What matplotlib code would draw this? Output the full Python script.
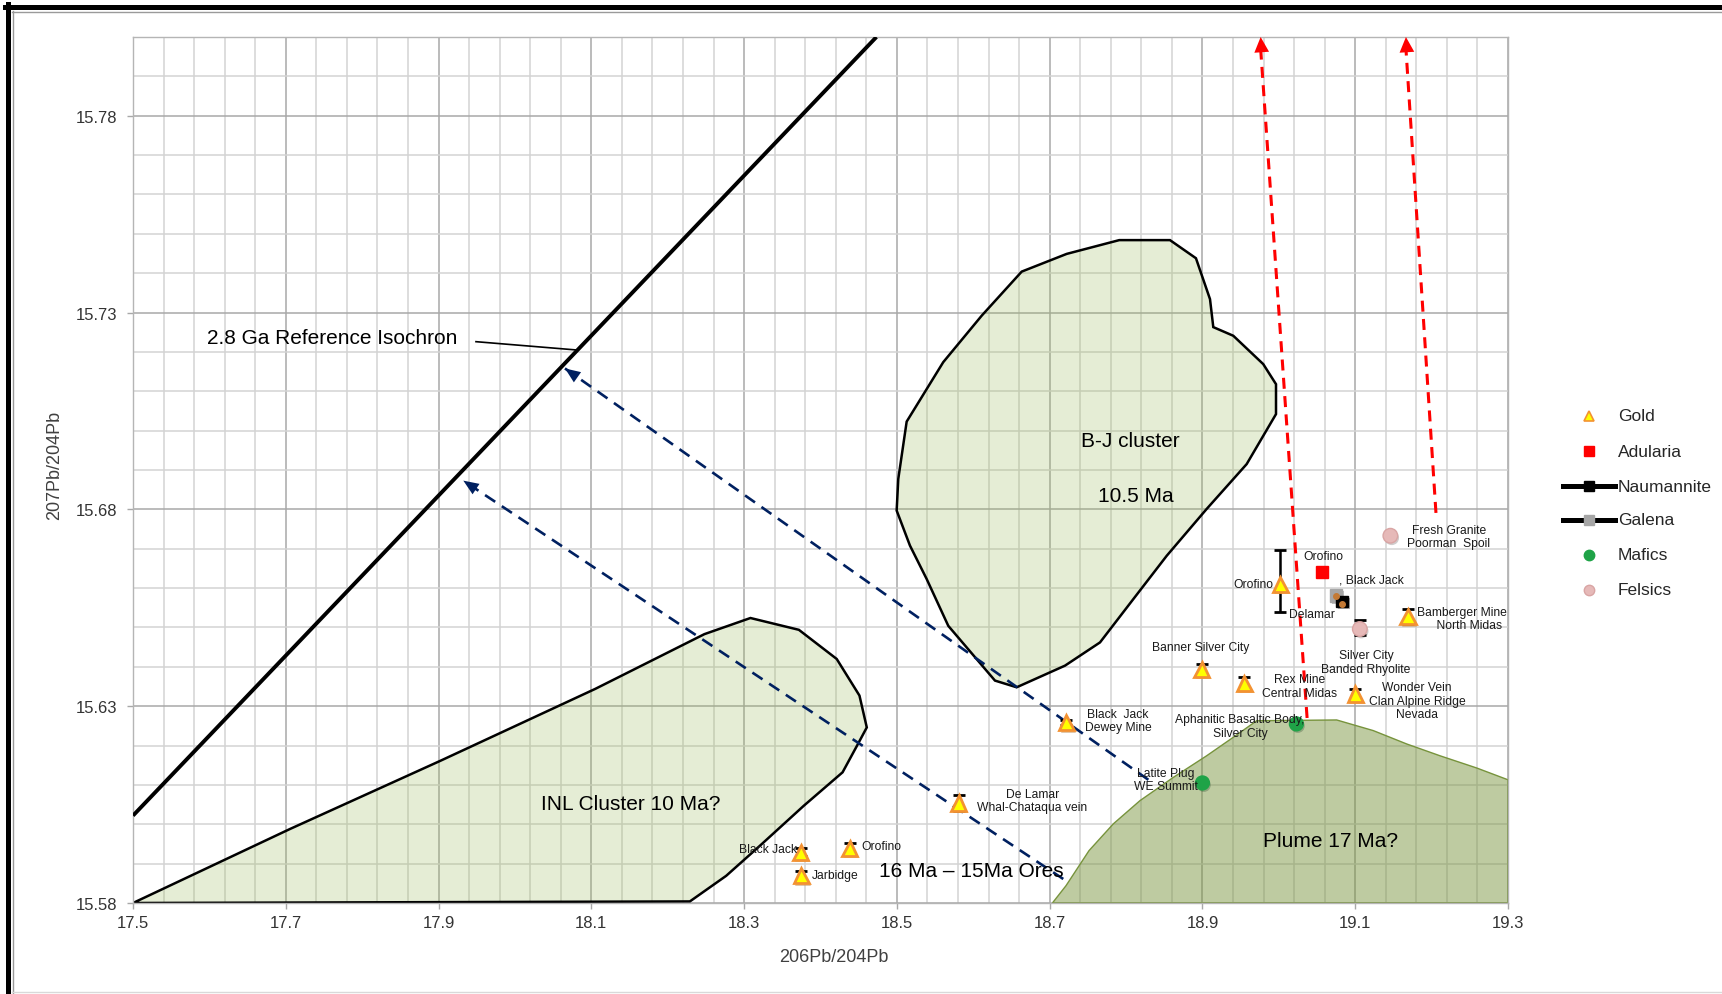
import matplotlib
matplotlib.use("Agg")
import numpy as np
import matplotlib.pyplot as plt
import matplotlib.patheffects as pe
from matplotlib.lines import Line2D
from matplotlib.colors import to_rgba
from matplotlib.ticker import FixedLocator, FormatStrFormatter

plt.rcParams["font.family"] = ["Liberation Sans", "DejaVu Sans"]

# ---------------- data ----------------
x_ticks = [17.5, 17.7, 17.9, 18.1, 18.3, 18.5, 18.7, 18.9, 19.1, 19.3]
y_ticks = [15.58, 15.63, 15.68, 15.73, 15.78]

# Gold (ores)
gold_x = [19.002, 18.899, 18.955, 19.100, 19.169, 18.722, 18.581, 18.374, 18.438, 18.375]
gold_y = [15.6610, 15.6394, 15.6358, 15.6331, 15.6527, 15.6258, 15.6054, 15.5929, 15.5939, 15.5869]
gold_err_lo = [0.0070, 0.0013, 0.0017, 0.0013, 0.0019, 0.0007, 0.0020, 0.0010, 0.0013, 0.0013]
gold_err_hi = [0.0088, 0.0013, 0.0017, 0.0013, 0.0019, 0.0007, 0.0020, 0.0010, 0.0013, 0.0013]

# Adularia
adularia_x = [19.057]
adularia_y = [15.6642]

# Naumannite / Galena
naumannite_x = [19.083]
naumannite_y = [15.6566]
galena_x = [19.075]
galena_y = [15.6581]

# Mafics
mafic_x = [19.023, 18.900]
mafic_y = [15.6255, 15.6105]

# Felsics
felsic_x = [19.146, 19.106]
felsic_y = [15.6733, 15.6496]
felsic_err_lo = [0.0, 0.0016]
felsic_err_hi = [0.0, 0.0024]

# 2.8 Ga reference isochron
isochron_x = [17.5, 18.4732]
isochron_y = [15.6022, 15.8000]

# clusters
bj_x = [18.6634, 18.7223, 18.7911, 18.8575, 18.8915, 18.9099, 18.9142, 18.9404, 18.9796,
        18.9963, 18.9963, 18.9579, 18.9055, 18.8532, 18.8095, 18.7659, 18.7201, 18.6568,
        18.6284, 18.5673, 18.5390, 18.5171, 18.4997, 18.5018, 18.5128, 18.5607, 18.6110]
bj_y = [15.7404, 15.7449, 15.7484, 15.7484, 15.7438, 15.7334, 15.7263, 15.7241, 15.7169,
        15.7118, 15.7042, 15.6915, 15.6801, 15.6682, 15.6572, 15.6462, 15.6403, 15.6348,
        15.6365, 15.6504, 15.6623, 15.6708, 15.6797, 15.6877, 15.7023, 15.7174, 15.7292]

inl_x = [17.5000, 17.7055, 17.9021, 18.1052, 18.2480, 18.3083, 18.3717, 18.4212, 18.4510,
         18.4606, 18.4479, 18.4289, 18.3781, 18.3210, 18.2765, 18.2290]
inl_y = [15.5800, 15.5988, 15.6161, 15.6344, 15.6483, 15.6524, 15.6494, 15.6420, 15.6327,
         15.6246, 15.6200, 15.6132, 15.6047, 15.5946, 15.5869, 15.5804]

plume_x = [18.7036, 18.7214, 18.7515, 18.7833, 18.8182, 18.8618, 18.9055, 18.9404, 18.9710,
           19.0757, 19.1236, 19.1674, 19.2110, 19.2590, 19.3000, 19.3000]
plume_y = [15.5800, 15.5844, 15.5933, 15.6001, 15.6060, 15.6119, 15.6174, 15.6221, 15.6263,
           15.6265, 15.6238, 15.6204, 15.6174, 15.6143, 15.6113, 15.5800]

# trend arrows (start -> tip)
blue_arrows = [((18.8292, 15.6113), (18.0655, 15.7158)),
               ((18.7178, 15.5861), (17.9324, 15.6873))]
red_arrows = [((19.037, 15.6270), (18.9762, 15.8000)),
              ((19.2057, 15.6791), (19.1664, 15.8000))]

# point labels: text, x, y, horizontal alignment
point_labels = [
    ("Orofino", 18.9924, 15.6610, "right"),
    ("Delamar", 19.0133, 15.6534, "left"),
    ("Orofino", 19.0578, 15.6681, "center"),
    (", Black Jack", 19.0788, 15.6623, "left"),
    ("Fresh Granite\nPoorman  Spoil", 19.2227, 15.6731, "center"),
    ("Bamberger Mine\n    North Midas", 19.2400, 15.6522, "center"),
    ("Banner Silver City", 18.8980, 15.6450, "center"),
    ("Silver City\nBanded Rhyolite", 19.1141, 15.6412, "center"),
    ("Rex Mine\nCentral Midas", 19.0277, 15.6351, "center"),
    ("Wonder Vein\nClan Alpine Ridge\nNevada", 19.1809, 15.6314, "center"),
    ("Aphanitic Basaltic Body,\nSilver City", 18.9492, 15.6250, "center"),
    ("Black  Jack\nDewey Mine", 18.7894, 15.6264, "center"),
    ("Latite Plug\nWE Summit", 18.8516, 15.6113, "center"),
    ("De Lamar\nWhal-Chataqua vein", 18.6775, 15.6061, "center"),
    ("Black Jack", 18.3688, 15.5937, "right"),
    ("Orofino", 18.4539, 15.5944, "left"),
    ("Jarbidge", 18.3885, 15.5871, "left"),
]

# region labels: text, x, y, horizontal alignment
region_labels = [
    ("B-J cluster", 18.8051, 15.6974, "center"),
    ("10.5 Ma", 18.8124, 15.6836, "center"),
    ("INL Cluster 10 Ma?", 18.1512, 15.6054, "center"),
    ("Plume 17 Ma?", 19.0676, 15.5960, "center"),
    ("16 Ma \u2013 15Ma Ores", 18.5979, 15.5882, "center"),
    ("2.8 Ga Reference Isochron", 17.5965, 15.7237, "left"),
]
leader_x = [17.949, 18.080]
leader_y = [15.7226, 15.7205]

legend_names = ["Gold", "Adularia", "Naumannite", "Galena", "Mafics", "Felsics"]

# ---------------- styles ----------------
gold_style = dict(marker="^", color="#FFFF00", markeredgecolor="#F39232", linestyle="none")
adularia_style = dict(marker="s", color="#FF0000", markeredgecolor="#FF0000", linestyle="none")
naum_style = dict(marker="s", color="#000000", markeredgecolor="#000000")
galena_style = dict(marker="s", color="#A6A6A6", markeredgecolor="#A6A6A6")
mafic_style = dict(marker="o", color="#1FA347", markeredgecolor="#1FA347", linestyle="none")
felsic_style = dict(marker="o", color="#E6B9B8", markeredgecolor="#D9A5A4", linestyle="none")

W, H = 1722, 995
fig = plt.figure(figsize=(W / 100, H / 100), dpi=100)
fig.patch.set_facecolor("white")
ax = fig.add_axes([133 / W, 1 - 904 / H, (1508 - 133) / W, (904 - 38) / H])

ax.set_xlim(17.5, 19.3)
ax.set_ylim(15.58, 15.80)
ax.xaxis.set_major_locator(FixedLocator(x_ticks))
ax.yaxis.set_major_locator(FixedLocator(y_ticks))
ax.xaxis.set_minor_locator(FixedLocator(np.arange(17.5, 19.3001, 0.04)))
ax.yaxis.set_minor_locator(FixedLocator(np.arange(15.58, 15.8001, 0.01)))
ax.xaxis.set_major_formatter(FormatStrFormatter("%.1f"))
ax.yaxis.set_major_formatter(FormatStrFormatter("%.2f"))
ax.set_axisbelow(True)
ax.grid(which="minor", color="#D3D3D3", lw=1.1)
ax.grid(which="major", color="#A8A8A8", lw=1.1)
ax.tick_params(which="minor", length=0)
ax.tick_params(which="major", length=4, width=1, color="#A8A8A8",
               labelsize=12, labelcolor="#333333")
ax.tick_params(axis="x", pad=5)
ax.tick_params(axis="y", pad=7)
for sp in ax.spines.values():
    sp.set_color("#B5B5B5")
    sp.set_linewidth(1.0)

# clusters
ax.fill(inl_x, inl_y, facecolor=to_rgba("#9BBB59", 0.25), edgecolor="black", lw=1.8, zorder=1)
ax.fill(bj_x, bj_y, facecolor=to_rgba("#9BBB59", 0.25), edgecolor="black", lw=1.8, zorder=1)
ax.fill(plume_x, plume_y, facecolor=to_rgba("#77933C", 0.48), edgecolor="#77933C", lw=1.0, zorder=1)

# reference isochron and leader
ax.plot(isochron_x, isochron_y, color="black", lw=2.8, solid_capstyle="butt", zorder=3)
ax.plot(leader_x, leader_y, color="black", lw=1.2, zorder=3)

# trend arrows
for (x0, y0), (x1, y1) in blue_arrows:
    ax.plot([x0, x1], [y0, y1], color="#002060", lw=1.9, dashes=(4.6, 3.0), zorder=3)
    ax.annotate("", xy=(x1, y1), xytext=(x0, y0),
                arrowprops=dict(arrowstyle="-|>,head_length=11,head_width=4.5",
                                mutation_scale=1, color="#002060", lw=0,
                                shrinkA=0, shrinkB=0), zorder=3)
for (x0, y0), (x1, y1) in red_arrows:
    ax.plot([x0, x1], [y0, y1 - 0.003], color="#FF0000", lw=2.2, dashes=(3.6, 2.4), zorder=3)
    ax.annotate("", xy=(x1, y1), xytext=(x0, y0),
                arrowprops=dict(arrowstyle="-|>,head_length=11,head_width=5.3",
                                mutation_scale=1, color="#FF0000", lw=0,
                                shrinkA=0, shrinkB=0), zorder=3, annotation_clip=False)

# error bars (drawn under the markers)
ax.errorbar(gold_x, gold_y, yerr=[gold_err_lo, gold_err_hi], fmt="none", ecolor="black",
            elinewidth=1.8, capsize=4, capthick=2, zorder=4)
ax.errorbar(felsic_x, felsic_y, yerr=[felsic_err_lo, felsic_err_hi], fmt="none", ecolor="black",
            elinewidth=1.8, capsize=4, capthick=2, zorder=4)

shadow = [pe.SimplePatchShadow(offset=(1.2, -1.8), shadow_rgbFace="#C89A66", alpha=0.55), pe.Normal()]
ax.plot(gold_x, gold_y, markersize=11, markeredgewidth=2, zorder=5, path_effects=shadow, **gold_style)
ax.plot(adularia_x, adularia_y, markersize=9, zorder=5, **adularia_style)
ax.plot(galena_x, galena_y, markersize=9, linestyle="none", zorder=5,
        path_effects=[pe.SimplePatchShadow(offset=(1.2, -1.5), alpha=0.3), pe.Normal()], **galena_style)
ax.plot(naumannite_x, naumannite_y, markersize=8.5, linestyle="none", zorder=5,
        path_effects=[pe.SimplePatchShadow(offset=(1.2, -1.5), alpha=0.3), pe.Normal()], **naum_style)
ax.plot(galena_x + naumannite_x, [galena_y[0], naumannite_y[0] - 0.0006], marker="o",
        linestyle="none", color="#C47A35", markersize=4, zorder=6)
ax.plot(mafic_x, mafic_y, markersize=10, zorder=5,
        path_effects=[pe.SimplePatchShadow(offset=(1, -1.5), alpha=0.25), pe.Normal()], **mafic_style)
ax.plot(felsic_x, felsic_y, markersize=10.5, markeredgewidth=1, zorder=5,
        path_effects=[pe.SimplePatchShadow(offset=(1, -1.5), alpha=0.25), pe.Normal()], **felsic_style)

for txt, x, y, ha in point_labels:
    ax.text(x, y, txt, fontsize=8.7, color="#1A1A1A", ha=ha, va="center",
            linespacing=1.15, zorder=7)
for txt, x, y, ha in region_labels:
    ax.text(x, y, txt, fontsize=15, color="black", ha=ha, va="center", zorder=7)

# axis titles
fig.text(834 / W, 1 - 958 / H, "206Pb/204Pb", fontsize=13, color="#404040", ha="center", va="center")
fig.text(55 / W, 1 - 465 / H, "207Pb/204Pb", fontsize=13, color="#404040", ha="center",
         va="center", rotation=90)

# legend panel (pixel coordinates)
lax = fig.add_axes([1540 / W, 1 - 620 / H, 182 / W, 240 / H])
lax.set_xlim(1540, 1722)
lax.set_ylim(620, 380)
lax.axis("off")
rows = [416.7, 452.3, 487.3, 520.7, 555.7, 590.7]
hx = 1589
lax.plot([hx], [rows[0]], markersize=7, markeredgewidth=1.2, **gold_style)
lax.plot([hx], [rows[1]], markersize=7.5, **adularia_style)
lax.plot([1563, 1615], [rows[2]] * 2, lw=3.6, color="black")
lax.plot([hx], [rows[2]], markersize=7, linestyle="none", **naum_style)
lax.plot([1563, 1615], [rows[3]] * 2, lw=3.6, color="black")
lax.plot([hx], [rows[3]], markersize=7, linestyle="none", **galena_style)
lax.plot([hx], [rows[4]], markersize=7.5, **mafic_style)
lax.plot([hx], [rows[5]], markersize=7.5, **felsic_style)
for name, yy in zip(legend_names, rows):
    lax.text(1618, yy, name, fontsize=12.5, color="#262626", ha="left", va="center")

# outer frame
fig.add_artist(Line2D([5 / W, 1], [1 - 7.5 / H] * 2, color="black", lw=3.6, transform=fig.transFigure))
fig.add_artist(Line2D([8 / W] * 2, [0, 1 - 5 / H], color="black", lw=3.6, transform=fig.transFigure))
fig.add_artist(Line2D([12 / W, 1], [1 - 12.5 / H] * 2, color="#9A9A9A", lw=1, transform=fig.transFigure))
fig.add_artist(Line2D([12.5 / W] * 2, [0, 1 - 12 / H], color="#9A9A9A", lw=1, transform=fig.transFigure))
fig.add_artist(Line2D([12 / W, 1], [1 - 993 / H] * 2, color="#D9D9D9", lw=1, transform=fig.transFigure))

fig.savefig("out.png", dpi=100, facecolor="white")
